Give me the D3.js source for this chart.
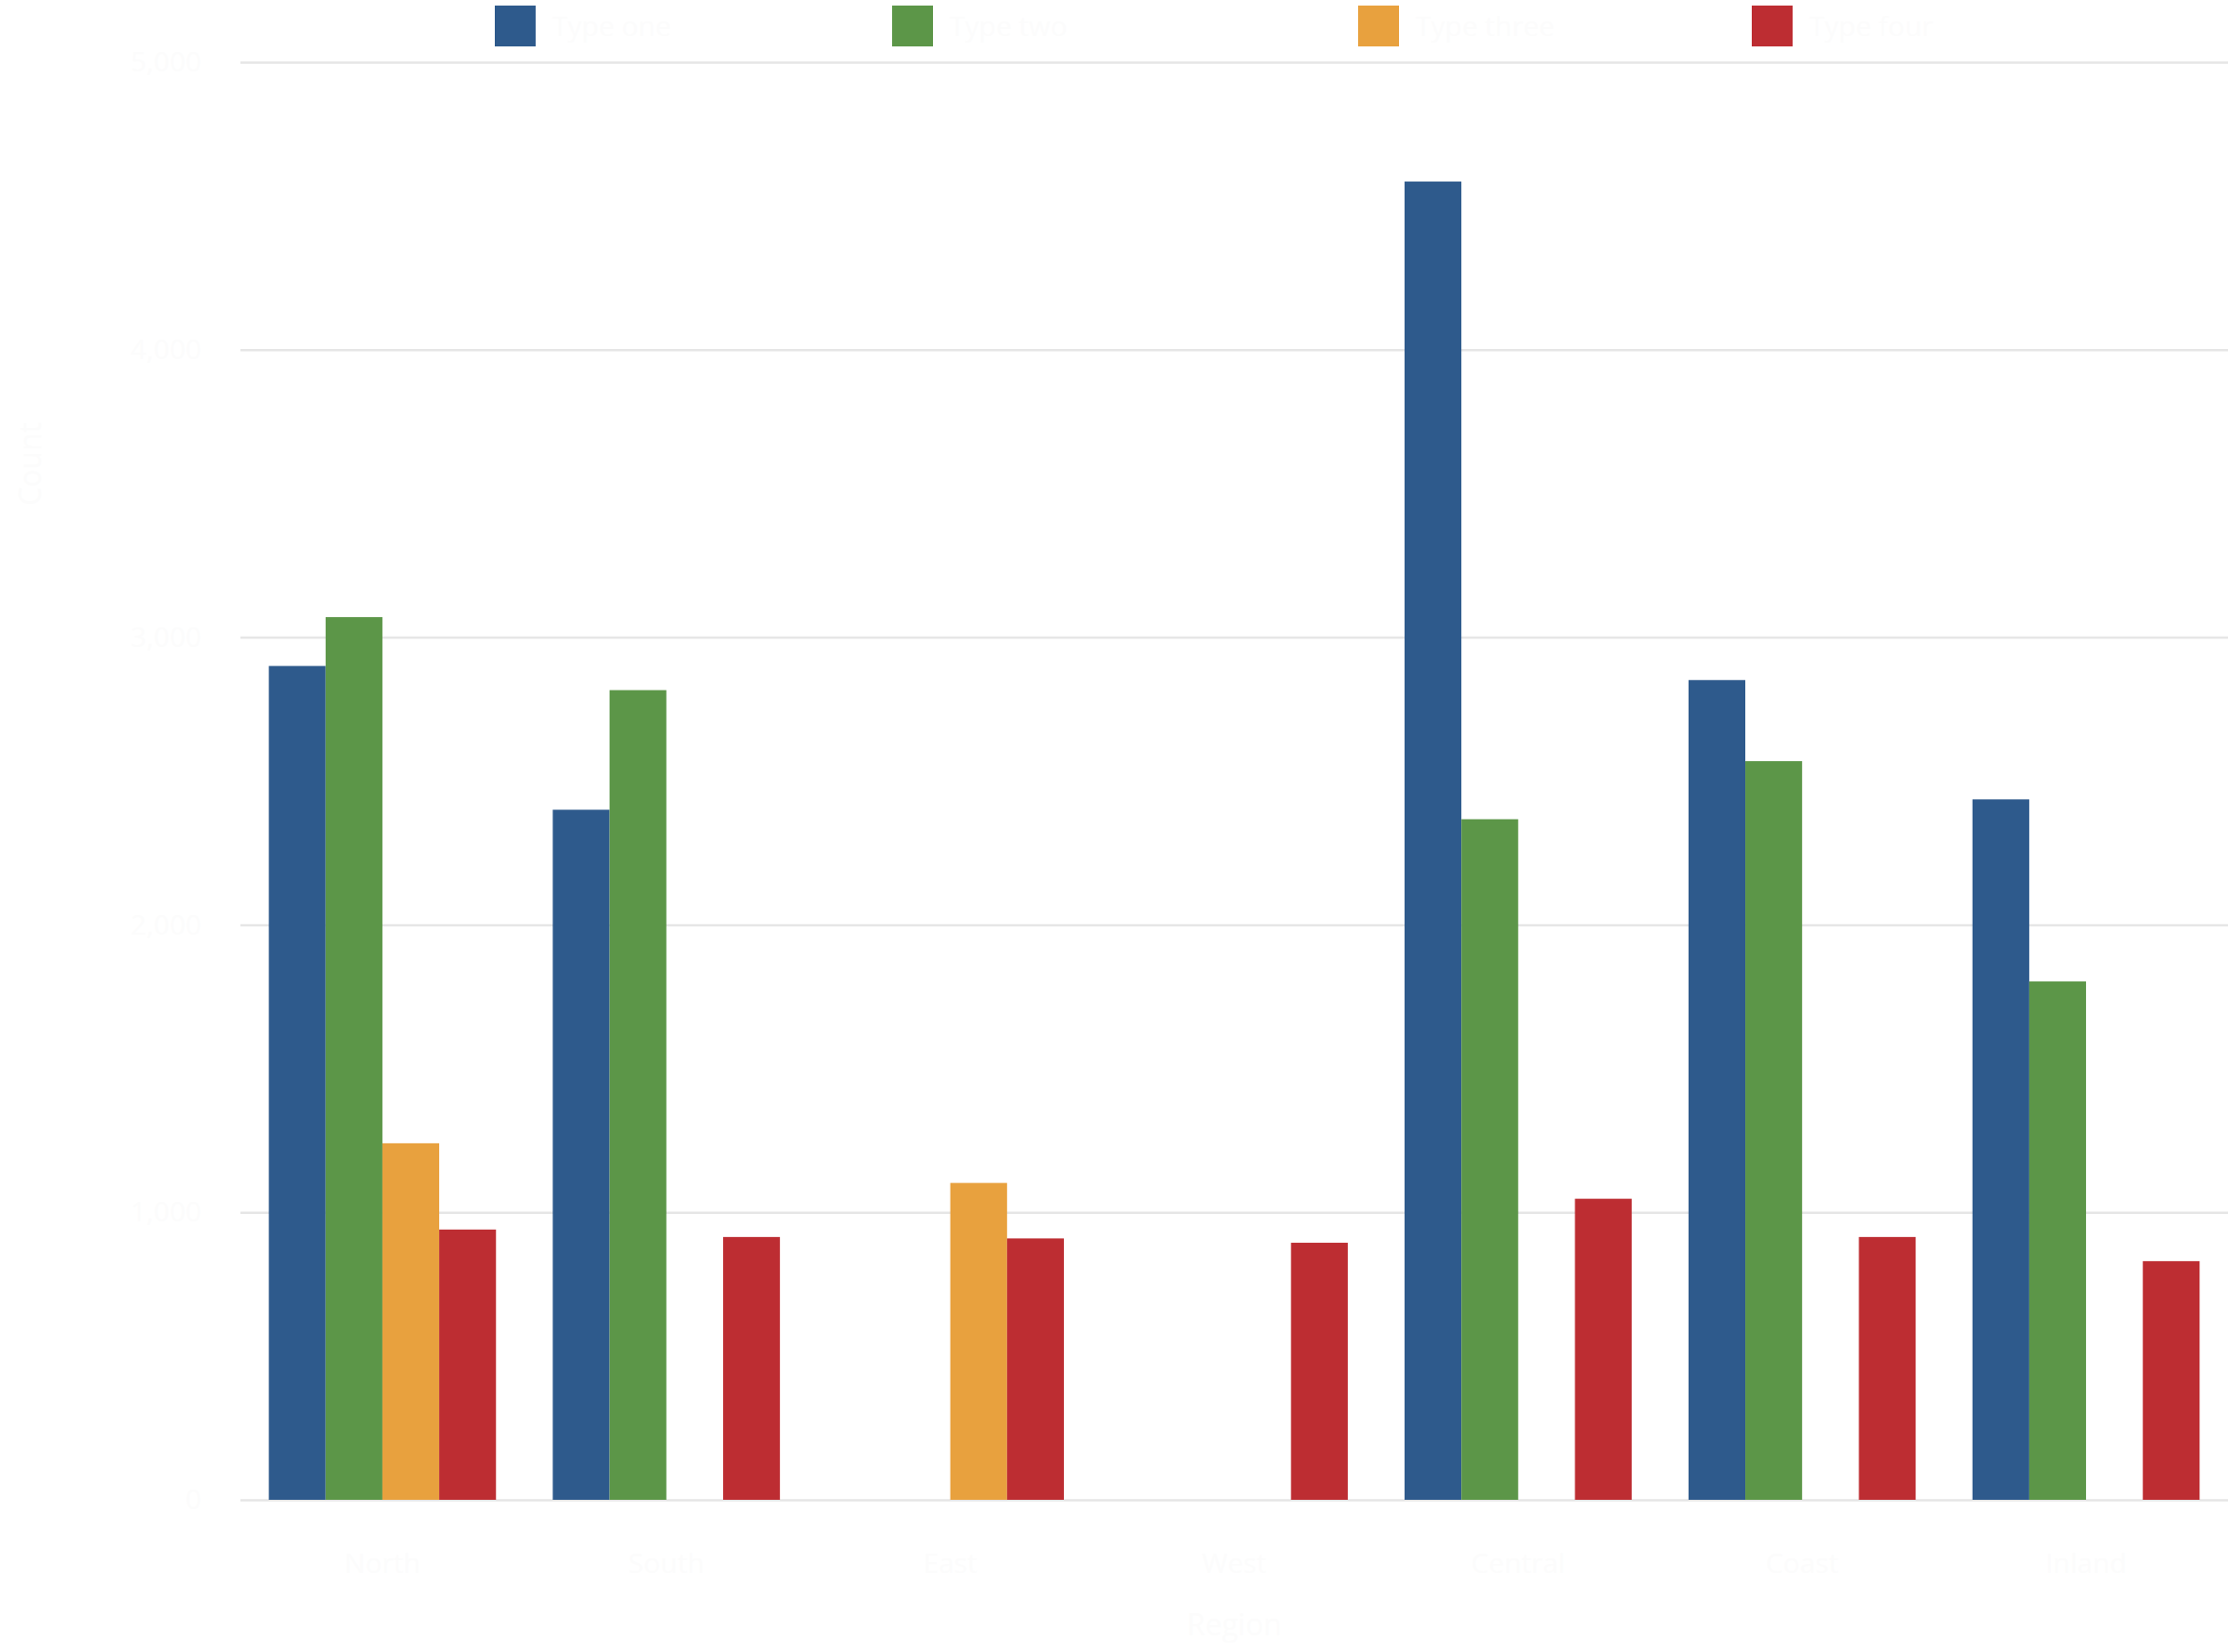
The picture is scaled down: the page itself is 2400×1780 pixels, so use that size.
<!DOCTYPE html>
<html>
<head>
  <meta charset="utf8" />
  <style>
    body {
      margin: 0;
      background: #fff;
    }
    text {
      font-family: "Open Sans", sans-serif;
      fill: #fcfcfc;
    }
    .grid line {
      stroke: #e6e6e6;
      stroke-width: 2.5px;
    }
  </style>
</head>
<body>
  <script src="https://d3js.org/d3.v7.min.js"></script>

  <script>
    // data (labels are nearly white and could not be read)
    var categories = ["North", "South", "East", "West", "Central", "Coast", "Inland"];
    var seriesNames = ["Type one", "Type two", "Type three", "Type four"];
    var seriesColors = ["#2e5a8c", "#5c9648", "#e8a13e", "#bd2d32"];
    var typeOne   = [2900, 2400, null, null, 4585, 2851, 2436];
    var typeTwo   = [3070, 2816, null, null, 2367, 2569, 1803];
    var typeThree = [1240, null, 1102, null, null, null, null];
    var typeFour  = [ 940,  914,  909,  894, 1047,  914,  830];
    var yTicks = [0, 1000, 2000, 3000, 4000, 5000];
    var xTitle = "Region";
    var yTitle = "Count";

    var series = [typeOne, typeTwo, typeThree, typeFour];

    var width = 2400,
        height = 1780,
        margin = {top: 67, right: 0, bottom: 164, left: 259};

    var svg = d3.select("body").append("svg")
        .attr("width", width)
        .attr("height", height);

    var x0 = d3.scaleBand()
        .domain(categories)
        .range([margin.left, width - margin.right])
        .paddingInner(0.2)
        .paddingOuter(0.1);

    var x1 = d3.scaleBand()
        .domain(d3.range(series.length))
        .range([0, x0.bandwidth()]);

    var y = d3.scaleLinear()
        .domain([0, 5000])
        .range([height - margin.bottom, margin.top]);

    // gridlines + tick labels
    svg.append("g")
        .attr("class", "grid")
        .attr("transform", "translate(" + margin.left + ",0)")
        .call(d3.axisLeft(y).tickValues(yTicks).tickSize(-(width - margin.left - margin.right)).tickPadding(42).tickFormat(d3.format(",")))
        .call(g => g.select(".domain").remove())
        .call(g => g.selectAll("text").style("font-size", "30px").attr("fill", "#fcfcfc"));

    // bars
    var groups = svg.append("g").selectAll("g")
        .data(categories)
      .enter().append("g")
        .attr("transform", d => "translate(" + x0(d) + ",0)");

    groups.selectAll("rect")
        .data((d, i) => series.map((s, k) => ({k: k, v: s[i]})).filter(e => e.v != null))
      .enter().append("rect")
        .attr("x", d => x1(d.k))
        .attr("width", x1.bandwidth())
        .attr("y", d => y(d.v))
        .attr("height", d => y(0) - y(d.v))
        .attr("fill", d => seriesColors[d.k]);

    // category labels
    svg.append("g")
        .attr("transform", "translate(0," + (height - margin.bottom) + ")")
        .call(d3.axisBottom(x0).tickSize(0).tickPadding(58))
        .call(g => g.select(".domain").remove())
        .call(g => g.selectAll("text").style("font-size", "30px").attr("fill", "#fcfcfc"));

    // axis titles
    svg.append("text")
        .attr("x", (margin.left + width) / 2)
        .attr("y", 1762)
        .attr("text-anchor", "middle")
        .style("font-size", "32px")
        .text(xTitle);

    svg.append("text")
        .attr("transform", "translate(44,500) rotate(-90)")
        .attr("text-anchor", "middle")
        .style("font-size", "32px")
        .text(yTitle);

    // legend
    var legendX = [533, 961, 1463, 1887];
    var legend = svg.append("g").selectAll("g")
        .data(seriesNames)
      .enter().append("g")
        .attr("transform", (d, i) => "translate(" + legendX[i] + ",6)");

    legend.append("rect")
        .attr("width", 44)
        .attr("height", 44)
        .attr("fill", (d, i) => seriesColors[i]);

    legend.append("text")
        .attr("x", 62)
        .attr("y", 33)
        .style("font-size", "30px")
        .text(d => d);
  </script>
</body>
</html>
